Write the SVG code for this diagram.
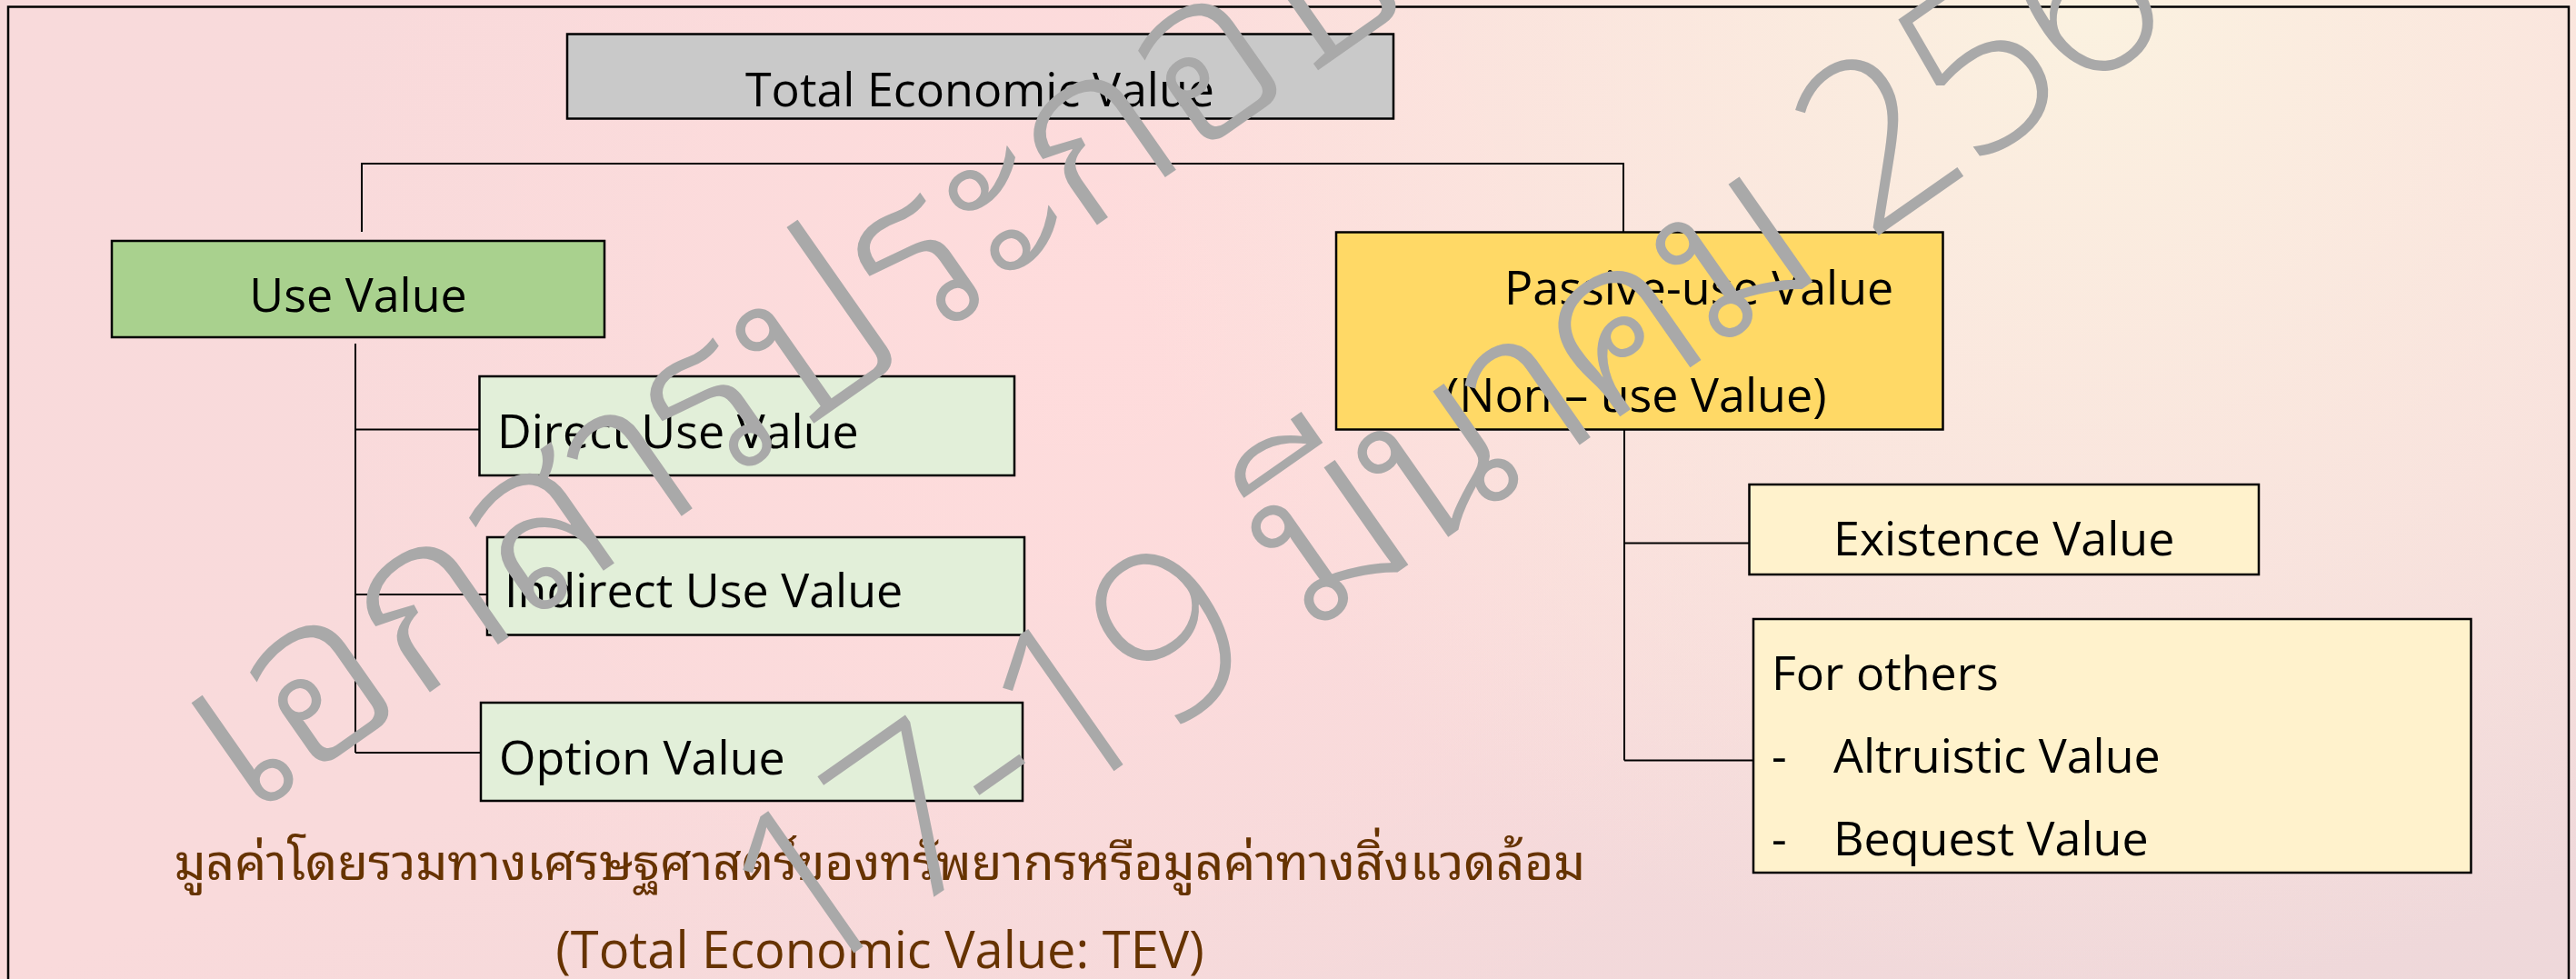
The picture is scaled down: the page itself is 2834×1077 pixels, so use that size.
<svg xmlns="http://www.w3.org/2000/svg" width="2834" height="1077" viewBox="0 0 2834 1077">
<defs>
<linearGradient id="bg" x1="0" y1="0" x2="1" y2="1">
<stop offset="0" stop-color="#f8dadb"/>
<stop offset="0.5" stop-color="#f9dadb"/>
<stop offset="1" stop-color="#eed8da"/>
</linearGradient>
<radialGradient id="cream" cx="2300" cy="0" r="1100" gradientUnits="userSpaceOnUse">
<stop offset="0" stop-color="#fbf2e0" stop-opacity="1"/>
<stop offset="0.6" stop-color="#fbeadf" stop-opacity="0.6"/>
<stop offset="1" stop-color="#fbeadf" stop-opacity="0"/>
</radialGradient>
<radialGradient id="pink" cx="1200" cy="350" r="900" gradientUnits="userSpaceOnUse">
<stop offset="0" stop-color="#ffdcdc" stop-opacity="0.9"/>
<stop offset="1" stop-color="#ffdcdc" stop-opacity="0"/>
</radialGradient>
<style>
.box{stroke:#000;stroke-width:2.5}
.t{font-family:"Open Sans","Noto Sans",sans-serif;font-size:52px;fill:#000}
.b{font-family:"Open Sans","Noto Sans Thai Looped","Noto Sans Thai","Leelawadee UI",Tahoma,"Noto Sans",sans-serif;font-size:56px;fill:#663300}
.th{font-size:55px}
.c{stroke:#000;stroke-width:2;fill:none}
.wm{font-family:"Open Sans","Noto Sans Thai Looped","Noto Serif Thai","Leelawadee UI",Tahoma,Garuda,Loma,"Noto Sans Thai",sans-serif;font-size:255px;font-weight:300;fill:#a9a9a9}
</style>
</defs>
<rect width="2834" height="1077" fill="url(#bg)"/>
<rect width="2834" height="1077" fill="url(#pink)"/>
<rect width="2834" height="1077" fill="url(#cream)"/>
<path d="M9,1077 V7.5 H2826 V1077" fill="none" stroke="#000" stroke-width="2.5"/>

<g id="connectors" class="c">
<path d="M398,255 V180 H1786 V255"/>
<path d="M391,378 V828"/>
<path d="M391,472.5 H527.5"/>
<path d="M391,654 H536"/>
<path d="M391,828 H529"/>
<path d="M1787,472.5 V836.5"/>
<path d="M1787,597.5 H1924.5"/>
<path d="M1787,836.5 H1929"/>
</g>

<g id="tev">
<rect class="box" x="624" y="37.5" width="909" height="93" fill="#c9c9c9"/>
<text class="t" x="1078" y="117" text-anchor="middle">Total Economic Value</text>
</g>
<g id="use-value">
<rect class="box" x="123" y="265" width="542" height="106" fill="#a9d18e"/>
<text class="t" x="394" y="343" text-anchor="middle">Use Value</text>
</g>
<g id="direct-use">
<rect class="box" x="527.5" y="414" width="588.5" height="109" fill="#e2efd9"/>
<text class="t" x="547" y="493">Direct Use Value</text>
</g>
<g id="indirect-use">
<rect class="box" x="536" y="591" width="591" height="107.5" fill="#e2efd9"/>
<text class="t" x="555" y="668">Indirect Use Value</text>
</g>
<g id="option">
<rect class="box" x="529" y="773" width="596" height="108" fill="#e2efd9"/>
<text class="t" x="549" y="852">Option Value</text>
</g>
<g id="passive-use">
<rect class="box" x="1470" y="255.5" width="667.5" height="217" fill="#ffd966"/>
<text class="t" x="1655" y="334.5">Passive-use Value</text>
<text class="t" x="1590" y="453">(Non – use Value)</text>
</g>
<g id="existence">
<rect class="box" x="1924.5" y="533" width="560.5" height="99" fill="#fff2cc"/>
<text class="t" x="2017" y="611">Existence Value</text>
</g>
<g id="for-others">
<rect class="box" x="1929" y="681" width="789.5" height="279" fill="#fff2cc"/>
<text class="t" x="1949" y="759">For others</text>
<text class="t" x="1949" y="850">-</text>
<text class="t" x="2017" y="850">Altruistic Value</text>
<text class="t" x="1949" y="941">-</text>
<text class="t" x="2017" y="941">Bequest Value</text>
</g>

<g id="caption">
<text class="b th" x="968" y="968" text-anchor="middle">มูลค่าโดยรวมทางเศรษฐศาสตร์ของทรัพยากรหรือมูลค่าทางสิ่งแวดล้อม</text>
<text class="b" x="968" y="1065" text-anchor="middle">(Total Economic Value: TEV)</text>
</g>

<g id="watermark">
<text class="wm" transform="translate(268,905) rotate(-35)">เอกสารประกอบ</text>
<text class="wm" transform="translate(880,1090) rotate(-35)" letter-spacing="-8">17-19 มีนาคม 256</text>
</g>
</svg>
